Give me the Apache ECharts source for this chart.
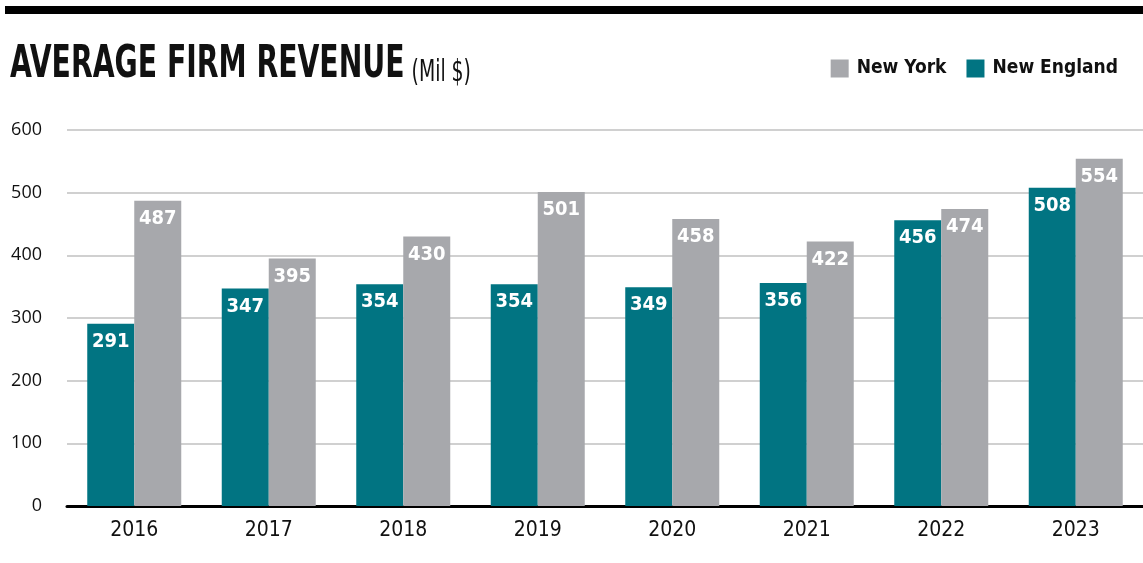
<!DOCTYPE html>
<html><head><meta charset="utf-8">
<script src="https://cdn.jsdelivr.net/npm/echarts@6/dist/echarts.min.js"></script>
<style>html,body{margin:0;padding:0;background:#fff}#c{width:1143px;height:563px}</style>
</head><body><div id="c"></div>
<script>
const categories = ['2016','2017','2018','2019','2020','2021','2022','2023'];
const newEngland = [291,347,354,354,349,356,456,508];
const newYork = [487,395,430,501,458,422,474,554];
const yTicks = [0,100,200,300,400,500,600];
const titleText = 'AVERAGE FIRM REVENUE';
const subText = '(Mil $)';

const COND = '"DejaVu Sans Condensed", "DejaVu Sans", sans-serif';
const chart = echarts.init(document.getElementById('c'));
chart.setOption({
  animation: false,
  graphic: [
    {type:'rect', shape:{x:5,y:6,width:1140,height:8}, style:{fill:'#000'}},
    {type:'text', x:10, y:43, scaleX:0.698, style:{
      text: '{a|' + titleText + '}{b|' + subText + '}',
      rich: {
        a:{fontFamily:COND, fontWeight:'bold', fontSize:45, fill:'#111', verticalAlign:'bottom'},
        b:{fontFamily:COND, fontSize:30, fill:'#111', verticalAlign:'bottom', padding:[0,0,0,10]}
      }
    }}
  ],
  legend: {
    data: ['New York','New England'],
    right: 20, top: 54,
    itemWidth: 18, itemHeight: 18, itemGap: 20,
    icon: 'rect',
    textStyle: {fontFamily: COND, fontWeight:'bold', fontSize:19, color:'#111', padding:[0,0,0,3]}
  },
  grid: {left: 67, right: -8, top: 130, bottom: 57, containLabel: false},
  xAxis: {
    type: 'category', data: categories,
    axisLine: {lineStyle:{color:'#000', width:3}},
    axisTick: {show:false},
    axisLabel: {fontFamily: COND, fontSize:21, color:'#111', margin:14}
  },
  yAxis: {
    type: 'value', min: 0, max: 600, interval: 100,
    axisLine: {show:false}, axisTick:{show:false},
    splitLine: {lineStyle:{color:'#d0d0d0', width:2}},
    axisLabel: {fontFamily:'"Open Sans", sans-serif', fontSize:18, color:'#111', margin:25,
      formatter: v => yTicks.includes(v) ? String(v) : ''}
  },
  series: [
    {name:'New England', type:'bar', data:newEngland, barWidth:47, barGap:'0%',
     itemStyle:{color:'#017482'},
     label:{show:true, position:'insideTop', distance:8, color:'#fff', fontFamily:COND, fontWeight:'bold', fontSize:20}},
    {name:'New York', type:'bar', data:newYork, barWidth:47, barGap:'0%',
     itemStyle:{color:'#a7a8ac'},
     label:{show:true, position:'insideTop', distance:8, color:'#fff', fontFamily:COND, fontWeight:'bold', fontSize:20}}
  ]
});
</script></body></html>
